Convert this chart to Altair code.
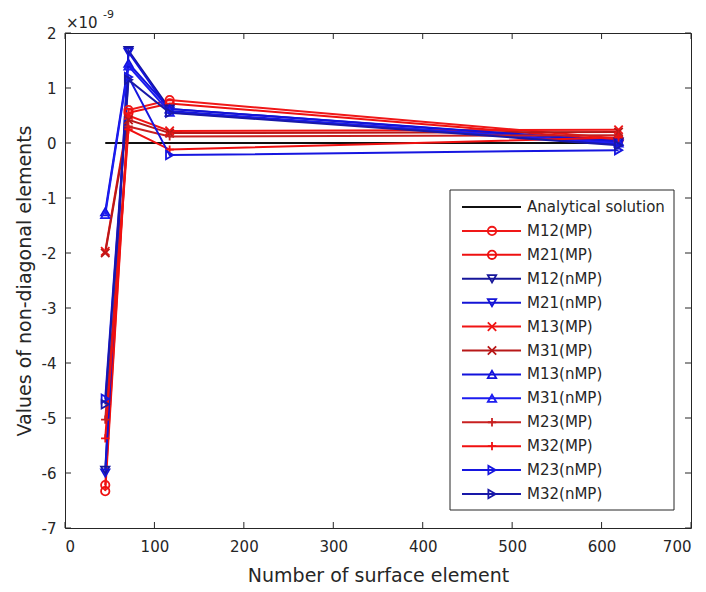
import altair as alt
import pandas as pd

# ---- data (values in units of 1e-9) ----
x_values = [45, 71, 117, 619]
series_names = [
    "Analytical solution",
    "M12(MP)", "M21(MP)", "M12(nMP)", "M21(nMP)",
    "M13(MP)", "M31(MP)", "M13(nMP)", "M31(nMP)",
    "M23(MP)", "M32(MP)", "M23(nMP)", "M32(nMP)",
]
analytical = [0.0, 0.0, 0.0, 0.0]
m12_mp = [-6.22, 0.60, 0.78, 0.08]
m21_mp = [-6.33, 0.55, 0.72, 0.05]
m12_nmp = [-5.95, 1.68, 0.62, 0.02]
m21_nmp = [-6.00, 1.65, 0.58, -0.02]
m13_mp = [-1.97, 0.50, 0.22, 0.24]
m31_mp = [-2.00, 0.42, 0.18, 0.20]
m13_nmp = [-1.25, 1.45, 0.62, 0.03]
m31_nmp = [-1.30, 1.40, 0.56, 0.00]
m23_mp = [-5.03, 0.30, 0.12, 0.14]
m32_mp = [-5.37, 0.25, -0.12, 0.10]
m23_nmp = [-4.65, 1.20, -0.22, -0.13]
m32_nmp = [-4.75, 1.15, 0.55, -0.04]

series_values = [analytical, m12_mp, m21_mp, m12_nmp, m21_nmp, m13_mp, m31_mp,
                 m13_nmp, m31_nmp, m23_mp, m32_mp, m23_nmp, m32_nmp]

series_colors = ["#111111",
                 "#F01818", "#EE1010", "#16169A", "#1414D6",
                 "#F01414", "#B81818", "#1212DC", "#1C1CF0",
                 "#C82020", "#F01010", "#1616E0", "#1818A8"]

X_PATH = "M-1,-1L1,1M-1,1L1,-1"
PLUS_PATH = "M-1,0L1,0M0,-1L0,1"
series_shapes = ["circle", "circle", "triangle-down", "triangle-down",
                 X_PATH, X_PATH, "triangle-up", "triangle-up",
                 PLUS_PATH, PLUS_PATH, "triangle-right", "triangle-right"]

x_ticks = [0, 100, 200, 300, 400, 500, 600, 700]
y_ticks = [-7, -6, -5, -4, -3, -2, -1, 0, 1, 2]

rows = []
for name, vals in zip(series_names, series_values):
    for xv, yv in zip(x_values, vals):
        rows.append({"series": name, "x": xv, "y": yv})
df = pd.DataFrame(rows)
df_pts = df[df["series"] != "Analytical solution"]

legend_df = pd.DataFrame({"series": series_names, "idx": list(range(len(series_names)))})
legend_pts = legend_df[legend_df["series"] != "Analytical solution"]

W, H = 626, 495
FONT = "DejaVu Sans"
AXC = "#262626"

xscale = alt.Scale(domain=[0, 700], nice=False, zero=False)
yscale = alt.Scale(domain=[-7, 2], nice=False, zero=False)
cscale = alt.Scale(domain=series_names, range=series_colors)
sscale = alt.Scale(domain=series_names[1:], range=series_shapes)

x_axis = alt.Axis(values=x_ticks, title="Number of surface element", ticks=False,
                  domain=False, grid=False, labelPadding=11, titlePadding=12)
y_axis = alt.Axis(values=y_ticks, title="Values of non-diagonal elements", ticks=False,
                  domain=False, grid=False, labelPadding=9, titlePadding=7,
                  labelExpr="datum.value < 0 ? '-' + abs(datum.value) : '' + datum.value")

lines = alt.Chart(df).mark_line(strokeWidth=2, clip=False).encode(
    x=alt.X("x:Q", scale=xscale, axis=x_axis),
    y=alt.Y("y:Q", scale=yscale, axis=y_axis),
    color=alt.Color("series:N", scale=cscale, legend=None),
    detail="series:N",
)

points = alt.Chart(df_pts).mark_point(filled=False, strokeWidth=1.8, size=70, opacity=1).encode(
    x=alt.X("x:Q", scale=xscale, axis=x_axis),
    y=alt.Y("y:Q", scale=yscale, axis=y_axis),
    color=alt.Color("series:N", scale=cscale, legend=None),
    shape=alt.Shape("series:N", scale=sscale, legend=None),
)

xt = pd.DataFrame({"x": x_ticks})
yt = pd.DataFrame({"y": y_ticks})
tick_x_bottom = alt.Chart(xt).mark_rule(color=AXC, strokeWidth=1).encode(
    x=alt.X("x:Q", scale=xscale, axis=x_axis), y=alt.value(H), y2=alt.value(H - 6))
tick_x_top = alt.Chart(xt).mark_rule(color=AXC, strokeWidth=1).encode(
    x=alt.X("x:Q", scale=xscale, axis=x_axis), y=alt.value(0), y2=alt.value(6))
tick_y_left = alt.Chart(yt).mark_rule(color=AXC, strokeWidth=1).encode(
    y=alt.Y("y:Q", scale=yscale, axis=y_axis), x=alt.value(0), x2=alt.value(6))
tick_y_right = alt.Chart(yt).mark_rule(color=AXC, strokeWidth=1).encode(
    y=alt.Y("y:Q", scale=yscale, axis=y_axis), x=alt.value(W), x2=alt.value(W - 6))

main = alt.layer(lines, points, tick_x_bottom, tick_x_top, tick_y_left, tick_y_right)

one = pd.DataFrame({"a": [0]})
exp_base = alt.Chart(one).mark_text(font=FONT, fontSize=15, color=AXC, align="left",
                                    baseline="alphabetic").encode(
    x=alt.value(1), y=alt.value(-5), text=alt.value("×10"))
exp_sup = alt.Chart(one).mark_text(font=FONT, fontSize=11, color=AXC, align="left",
                                   baseline="alphabetic").encode(
    x=alt.value(38), y=alt.value(-15), text=alt.value("-9"))

# legend box
leg_y = alt.Scale(domain=[0, 12], range=[174, 461])
leg_box = alt.Chart(one).mark_rect(fill="white", stroke=AXC, strokeWidth=1).encode(
    x=alt.value(385), x2=alt.value(609), y=alt.value(157), y2=alt.value(477))
leg_lines = alt.Chart(legend_df).mark_rule(strokeWidth=2).encode(
    x=alt.value(397), x2=alt.value(456),
    y=alt.Y("idx:Q", scale=leg_y, axis=None),
    color=alt.Color("series:N", scale=cscale, legend=None),
)
leg_points = alt.Chart(legend_pts).mark_point(filled=False, strokeWidth=1.8, size=70, opacity=1).encode(
    x=alt.value(427),
    y=alt.Y("idx:Q", scale=leg_y, axis=None),
    color=alt.Color("series:N", scale=cscale, legend=None),
    shape=alt.Shape("series:N", scale=sscale, legend=None),
)
leg_text = alt.Chart(legend_df).mark_text(font=FONT, fontSize=15, color=AXC, align="left",
                                          baseline="middle").encode(
    x=alt.value(462),
    y=alt.Y("idx:Q", scale=leg_y, axis=None),
    text="series:N",
)
legend = alt.layer(leg_box, leg_lines, leg_points, leg_text)

chart = alt.layer(main, exp_base, exp_sup, legend).resolve_scale(y="independent").properties(
    width=W, height=H,
    padding={"left": 57, "top": 25, "right": 7, "bottom": 56},
    autosize=alt.AutoSizeParams(type="none"),
    background="white",
).configure_view(stroke=AXC, strokeWidth=1).configure_axis(
    labelFont=FONT, labelFontSize=15, labelColor=AXC,
    titleFont=FONT, titleFontSize=19, titleColor=AXC, titleFontWeight="normal",
)

chart.save("out.html", embed_options={"renderer": "svg", "actions": False})
